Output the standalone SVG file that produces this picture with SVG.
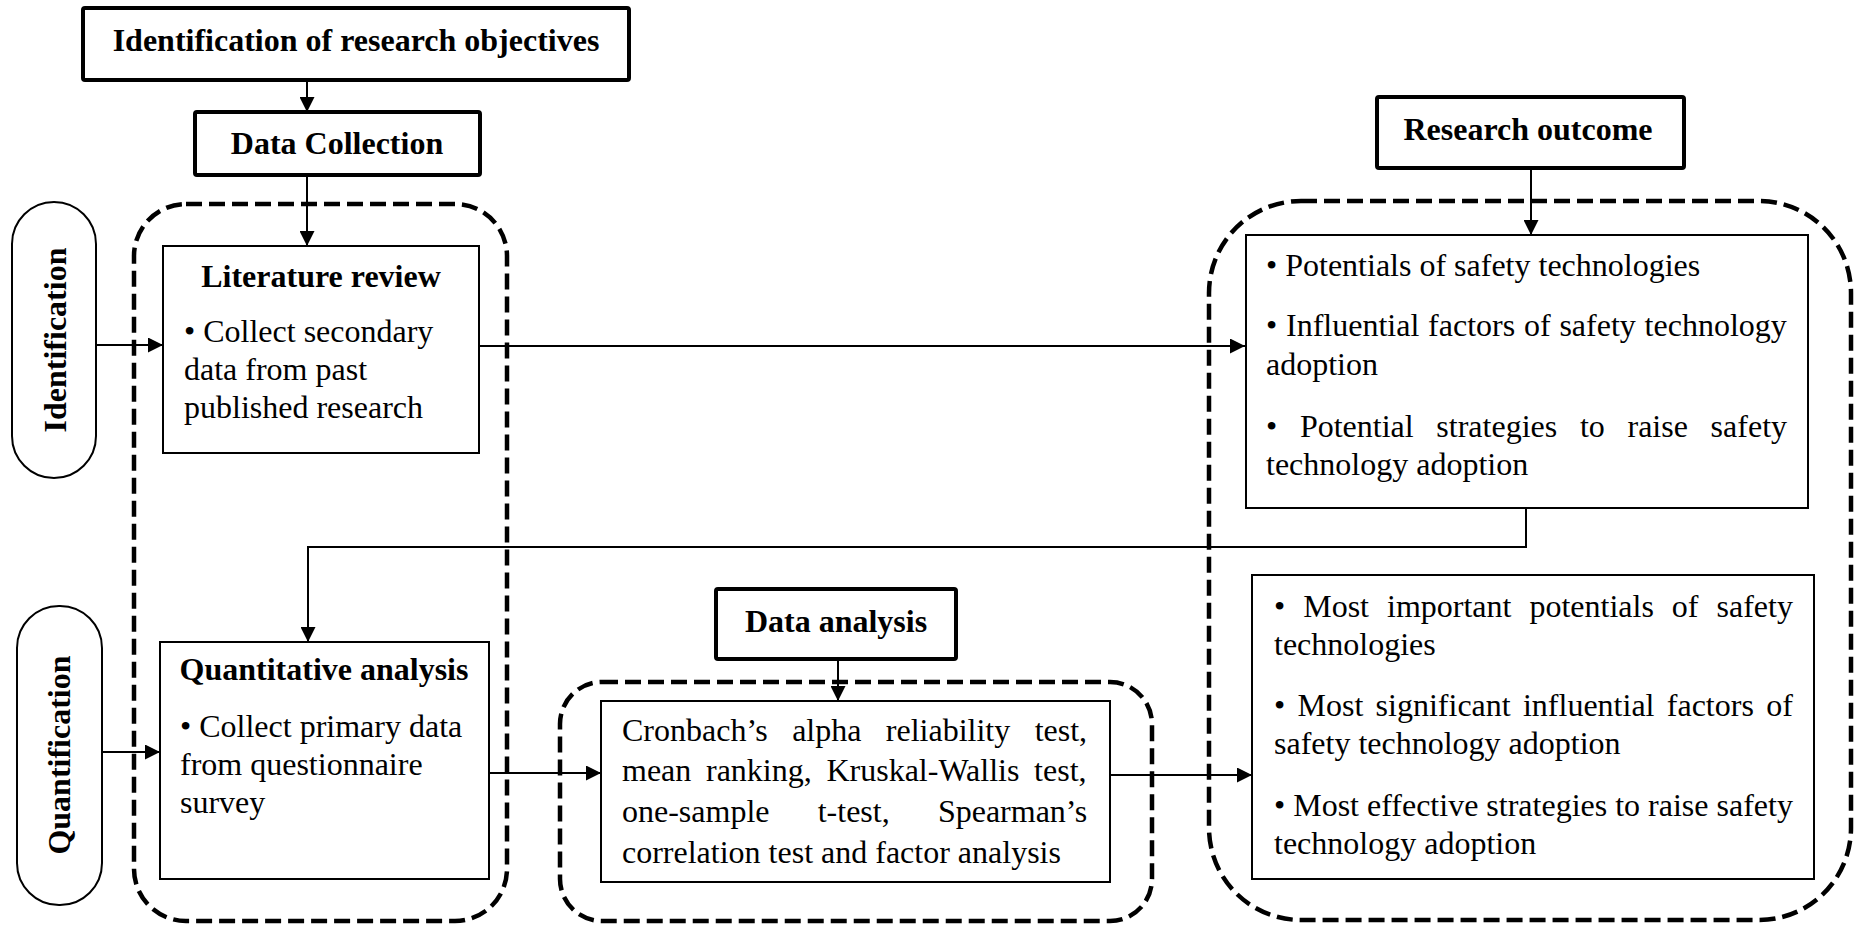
<svg xmlns="http://www.w3.org/2000/svg" width="1855" height="926" viewBox="0 0 1855 926">
<defs>
<marker id="arr" markerUnits="userSpaceOnUse" markerWidth="15" markerHeight="15" refX="15" refY="7.5" orient="auto">
<path d="M0,0 L15,7.5 L0,15 z" fill="#000"/>
</marker>
<style>
text{font-family:"Liberation Serif","Times New Roman",serif;font-size:32px;fill:#000}
.b{font-weight:bold}
.c{text-anchor:middle}
.hdr{fill:#fff;stroke:#000;stroke-width:4}
.box{fill:#fff;stroke:#000;stroke-width:2}
.dash{fill:none;stroke:#000;stroke-width:4.5;stroke-dasharray:16 7}
.pill{fill:#fff;stroke:#000;stroke-width:2}
.ln{fill:none;stroke:#000;stroke-width:2}
</style>
</defs>
<rect width="1855" height="926" fill="#fff"/>

<g id="groups">
<rect id="grp-left" class="dash" x="134" y="204" width="373" height="717" rx="52" ry="52"/>
<rect id="grp-mid" class="dash" x="560" y="682" width="592" height="239" rx="42" ry="42"/>
<rect id="grp-right" class="dash" x="1209" y="201" width="642" height="719" rx="92" ry="92"/>
</g>

<g id="connectors">
<line class="ln" x1="307" y1="80" x2="307" y2="112" marker-end="url(#arr)"/>
<line class="ln" x1="307" y1="175" x2="307" y2="246" marker-end="url(#arr)"/>
<line class="ln" x1="96" y1="345" x2="163" y2="345" marker-end="url(#arr)"/>
<line class="ln" x1="479" y1="346" x2="1245" y2="346" marker-end="url(#arr)"/>
<line class="ln" x1="1531" y1="168" x2="1531" y2="235" marker-end="url(#arr)"/>
<polyline class="ln" points="1526,508 1526,547 308,547 308,642" marker-end="url(#arr)"/>
<line class="ln" x1="102" y1="752" x2="160" y2="752" marker-end="url(#arr)"/>
<line class="ln" x1="489" y1="773" x2="601" y2="773" marker-end="url(#arr)"/>
<line class="ln" x1="838" y1="659" x2="838" y2="701" marker-end="url(#arr)"/>
<line class="ln" x1="1110" y1="775" x2="1252" y2="775" marker-end="url(#arr)"/>
</g>

<g id="objectives">
<rect class="hdr" x="83" y="8" width="546" height="72" rx="2"/>
<text class="b c" x="356" y="51">Identification of research objectives</text>
</g>

<g id="data-collection">
<rect class="hdr" x="195" y="112" width="285" height="63" rx="2"/>
<text class="b c" x="337" y="154">Data Collection</text>
</g>

<g id="identification">
<rect class="pill" x="12" y="202" width="84" height="276" rx="42" ry="42"/>
<text class="b c" transform="translate(66,340) rotate(-90)">Identification</text>
</g>

<g id="quantification">
<rect class="pill" x="17" y="606" width="85" height="299" rx="42" ry="42"/>
<text class="b c" transform="translate(70,755) rotate(-90)">Quantification</text>
</g>

<g id="literature-review">
<rect class="box" x="163" y="246" width="316" height="207"/>
<text class="b c" x="321" y="287">Literature review</text>
<text x="184" y="342">• Collect secondary</text>
<text x="184" y="380">data from past</text>
<text x="184" y="418">published research</text>
</g>

<g id="quantitative-analysis">
<rect class="box" x="160" y="642" width="329" height="237"/>
<text class="b c" x="324" y="680">Quantitative analysis</text>
<text x="180" y="737">• Collect primary data</text>
<text x="180" y="775">from questionnaire</text>
<text x="180" y="813">survey</text>
</g>

<g id="data-analysis">
<rect class="hdr" x="716" y="589" width="240" height="70" rx="2"/>
<text class="b c" x="836" y="632">Data analysis</text>
</g>

<g id="analysis-methods">
<rect class="box" x="601" y="701" width="509" height="181"/>
<text x="622" y="741" word-spacing="16.4">Cronbach’s alpha reliability test,</text>
<text x="622" y="781" word-spacing="6.7">mean ranking, Kruskal-Wallis test,</text>
<text x="622" y="822" word-spacing="40.2">one-sample t-test, Spearman’s</text>
<text x="622" y="863">correlation test and factor analysis</text>
</g>

<g id="research-outcome">
<rect class="hdr" x="1377" y="97" width="307" height="71" rx="2"/>
<text class="b c" x="1528" y="140">Research outcome</text>
</g>

<g id="outcome-identification">
<rect class="box" x="1246" y="235" width="562" height="273"/>
<text x="1266" y="276">• Potentials of safety technologies</text>
<text x="1266" y="336" word-spacing="0.8">• Influential factors of safety technology</text>
<text x="1266" y="375">adoption</text>
<text x="1266" y="437" word-spacing="14.7">• Potential strategies to raise safety</text>
<text x="1266" y="475">technology adoption</text>
</g>

<g id="outcome-quantification">
<rect class="box" x="1252" y="575" width="562" height="304"/>
<text x="1274" y="617" word-spacing="10">• Most important potentials of safety</text>
<text x="1274" y="655">technologies</text>
<text x="1274" y="716" word-spacing="4.3">• Most significant influential factors of</text>
<text x="1274" y="754">safety technology adoption</text>
<text x="1274" y="816">• Most effective strategies to raise safety</text>
<text x="1274" y="854">technology adoption</text>
</g>
</svg>
